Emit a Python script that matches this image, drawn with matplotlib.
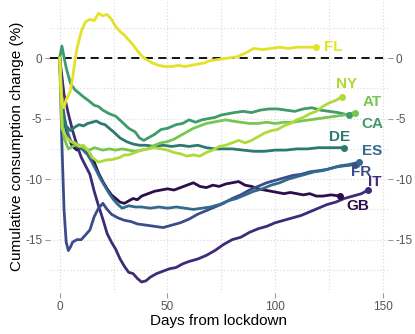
import numpy as np
import matplotlib
matplotlib.use('Agg')
import matplotlib.pyplot as plt

plt.rcParams['font.family'] = ['Liberation Sans', 'DejaVu Sans']

# hand read values, days from lockdown / cumulative change (%)
fl_day = [0, 1, 2, 3, 4, 5, 6, 7, 8, 10, 12, 14, 16, 18, 20, 22, 24, 26, 28, 30, 32, 34, 36, 38, 40,
          43, 46, 49, 52, 55, 58, 61, 64, 67, 70, 74, 78, 82, 86, 90, 94, 98, 102, 106, 110, 114, 119]
fl_val = [0, -3.6, -4.1, -3.4, -3.1, -2.7, -1.6, -0.3, 0.8, 2.2, 3.0, 3.2, 3.1, 3.7, 3.5, 3.6, 3.2, 2.6, 2.2, 1.9, 1.5, 1.1, 0.6, 0.2, -0.1,
          -0.4, -0.6, -0.7, -0.7, -0.6, -0.7, -0.6, -0.5, -0.4, -0.2, -0.1, 0.0, 0.1, 0.4, 0.8, 0.7, 0.8, 0.9, 0.8, 0.9, 0.9, 0.9]

ny_day = [0, 1, 3, 5, 7, 9, 11, 13, 15, 18, 20, 22, 24, 26, 28, 30, 32,
          35, 38, 41, 44, 47, 50, 53, 56, 59, 62, 65, 68, 71, 74, 77, 80, 83, 86, 89, 92, 95, 98, 101, 104,
          107, 110, 113, 116, 119, 122, 125, 128, 131]
ny_val = [0, -5.8, -6.5, -6.9, -7.0, -7.3, -7.2, -7.6, -8.2, -8.6, -8.5, -8.4, -8.4, -8.3, -8.2, -8.0, -8.0,
          -7.8, -7.6, -7.5, -7.4, -7.5, -7.6, -7.8, -7.9, -8.1, -8.0, -8.1, -7.8, -7.6, -7.3, -7.2, -7.0, -6.8, -7.0, -6.8, -6.5, -6.2, -6.0, -5.9, -5.6,
          -5.4, -5.1, -4.9, -4.6, -4.4, -4.0, -3.7, -3.5, -3.2]

at_day = [0, 1, 2, 4, 6, 8, 10, 12, 14, 16, 18, 20,
          23, 26, 29, 32, 35, 38, 41, 44, 47, 50, 53, 56, 59, 62, 65, 68, 71, 74, 77, 80,
          84, 88, 92, 96, 100, 104, 108, 112, 116, 120, 124, 128, 132, 137]
at_val = [0, -4.8, -6.6, -7.5, -7.3, -7.1, -7.3, -7.5, -7.6, -7.4, -7.5, -7.6,
          -7.5, -7.6, -7.5, -7.6, -7.7, -7.6, -7.5, -7.2, -7.0, -6.9, -6.7, -6.4, -6.1, -5.8, -5.6, -5.4, -5.3, -5.2, -5.1, -5.2,
          -5.3, -5.4, -5.4, -5.3, -5.4, -5.3, -5.3, -5.2, -5.1, -5.0, -4.9, -4.8, -4.7, -4.5]

ca_day = [0, 1, 3, 5, 7, 9, 11, 14, 16, 18, 20,
          23, 26, 29, 32, 35, 37, 39, 41, 44, 47, 50, 54, 57, 60, 63, 66, 69, 72, 75, 78, 81,
          85, 89, 93, 97, 101, 105, 109, 113, 117, 121, 125, 129, 134]
ca_val = [0, 1.0, -0.8, -2.1, -2.6, -2.9, -3.2, -3.6, -3.9, -4.0, -4.3,
          -4.6, -4.8, -5.3, -5.8, -6.1, -6.6, -6.8, -6.6, -6.3, -5.9, -5.8, -5.5, -5.4, -5.1, -5.3, -5.1, -5.0, -4.9, -4.7, -4.6, -4.5,
          -4.4, -4.5, -4.3, -4.2, -4.2, -4.3, -4.4, -4.2, -4.1, -4.3, -4.4, -4.5, -4.7]

de_day = [0, 1, 3, 5, 7, 9, 11, 13, 15, 17, 19, 21, 23, 25,
          28, 31, 34, 37, 40, 44, 48, 52, 56, 60, 64, 68, 72, 76, 80,
          85, 90, 95, 100, 105, 110, 115, 120, 125, 132]
de_val = [0, -4.2, -5.6, -6.0, -5.7, -5.5, -5.6, -5.4, -5.3, -5.2, -5.4, -5.5, -5.8, -6.1,
          -6.6, -6.9, -7.1, -7.2, -7.2, -7.3, -7.2, -7.3, -7.2, -7.3, -7.2, -7.4, -7.5, -7.5, -7.5,
          -7.6, -7.7, -7.7, -7.6, -7.6, -7.5, -7.5, -7.4, -7.4, -7.4]

es_day = [0, 1, 3, 5, 7, 9, 11, 13, 15, 17, 19, 21, 23, 25, 27, 29,
          32, 35, 38, 42, 46, 50, 54, 58, 62, 66, 70, 74, 78, 82, 86, 90, 94, 98,
          102, 106, 110, 114, 118, 122, 126, 130, 134, 139]
es_val = [0, -3.5, -5.8, -6.8, -7.2, -7.3, -7.6, -8.0, -8.6, -9.3, -10.0, -10.6, -11.2, -11.7, -12.1, -12.4,
          -12.2, -12.3, -12.3, -12.4, -12.3, -12.4, -12.3, -12.4, -12.5, -12.4, -12.3, -12.1, -11.8, -11.6, -11.3, -11.0, -10.8, -10.5,
          -10.3, -10.0, -9.8, -9.6, -9.4, -9.3, -9.1, -8.9, -8.8, -8.6]

fr_day = [0, 1, 2, 3, 4, 5, 6, 8, 10, 12, 14, 16, 18, 20, 22, 24,
          27, 30, 33, 36, 40, 44, 48, 52, 56, 60, 64, 68, 72, 76, 80,
          84, 88, 92, 96, 100, 104, 108, 112, 116, 120, 124, 128, 132, 137]
fr_val = [0, -7.0, -12.5, -15.2, -15.9, -15.6, -15.2, -15.0, -15.0, -14.6, -14.2, -13.1, -12.4, -12.0, -12.5, -12.9,
          -13.2, -13.4, -13.5, -13.7, -13.8, -13.9, -14.0, -13.8, -13.6, -13.3, -12.9, -12.6, -12.3, -12.0, -11.6,
          -11.3, -10.9, -10.6, -10.3, -10.1, -9.9, -9.7, -9.6, -9.4, -9.3, -9.2, -9.0, -8.9, -8.8]

it_day = [0, 2, 4, 6, 8, 10, 12, 14, 16, 18, 20, 22, 24, 26, 28, 30, 32, 34, 36, 38, 40, 42,
          45, 48, 51, 54, 57, 60,
          64, 68, 72, 76, 80, 84, 88, 92, 96, 100, 104, 108, 112, 116, 120, 124, 128, 132, 136, 140, 143]
it_val = [0, -3.0, -4.6, -6.0, -7.2, -8.2, -8.9, -9.6, -11.0, -12.2, -13.3, -14.5, -15.2, -15.8, -16.6, -17.2, -17.7, -17.8, -18.2, -18.5, -18.4, -18.1,
          -17.8, -17.6, -17.4, -17.3, -17.0, -16.8,
          -16.6, -16.3, -15.9, -15.4, -15.0, -14.8, -14.4, -14.1, -13.9, -13.6, -13.4, -13.2, -13.0, -12.7, -12.4, -12.1, -11.9, -11.6, -11.4, -11.2, -10.9]

gb_day = [0, 1, 2,
          4, 6, 8, 10, 12, 14, 16, 18, 20, 22, 24, 26, 28, 30, 32, 34, 36, 38,
          41, 44, 47, 50, 53, 56, 59, 62, 65, 68, 71, 74, 77, 80, 83, 86, 89, 92, 95, 98, 101, 104, 107, 110, 113, 116, 119, 122,
          126, 130]
gb_val = [0, -3.5, -5.2,
          -6.6, -7.3, -7.6, -7.4, -7.8, -7.9, -8.6, -9.5, -10.2, -10.8, -11.3, -11.6, -11.9, -12.0, -11.8, -11.6, -11.7, -11.4,
          -11.2, -11.0, -10.9, -10.8, -10.9, -10.7, -10.5, -10.3, -10.6, -10.7, -10.5, -10.6, -10.4, -10.3, -10.2, -10.5, -10.6, -10.8, -10.9, -11.0, -11.1, -11.2, -11.1, -11.2, -11.3, -11.2, -11.4, -11.4,
          -11.3, -11.4]

names  = ['GB', 'IT', 'FR', 'ES', 'DE', 'CA', 'AT', 'NY', 'FL']
days   = [gb_day, it_day, fr_day, es_day, de_day, ca_day, at_day, ny_day, fl_day]
vals   = [gb_val, it_val, fr_val, es_val, de_val, ca_val, at_val, ny_val, fl_val]
colors = ['#2c0f4a', '#3f2a78', '#3a4d8a', '#33698c', '#2b7a72', '#3f9a6c', '#78c652', '#b0d93a', '#e3e229']
# label offsets (days, %) from the end dot
lab_off = {'FL': (3.5, 0.0), 'NY': (2.0, 1.1), 'AT': (8.0, 0.9), 'CA': (11.0, -0.75),
           'DE': (-2.0, 0.85), 'ES': (6.0, 0.95), 'FR': (3.0, -0.6), 'IT': (3.2, 0.7), 'GB': (8.5, -0.85)}
lab_ha = {'FL': 'left'}

fig = plt.figure(figsize=(4.15, 3.34), dpi=100)
ax = fig.add_axes([0.12, 0.123, 0.815, 0.877])

ax.axhline(0, color='black', lw=1.3, ls=(0, (4.5, 3)), zorder=1)

for nm, d, v, c in zip(names, days, vals, colors):
    ax.plot(d, v, color=c, lw=2.0, zorder=2, solid_joinstyle='round')
    ax.plot(d[-1], v[-1], 'o', color=c, ms=4.0, zorder=3)
    dx, dy = lab_off[nm]
    ax.text(d[-1] + dx, v[-1] + dy, nm, color=c, fontsize=11, fontweight='bold',
            ha=lab_ha.get(nm, 'center'), va='center', zorder=4)

ax.set_xlim(-4.6, 152.3)
ax.set_ylim(-19.4, 4.8)
ax.set_xticks([0, 50, 100, 150])
ax.set_xticks([25, 75, 125], minor=True)
ax.set_yticks([0, -5, -10, -15])
ax.set_yticks([2.5, -2.5, -7.5, -12.5, -17.5], minor=True)
ax.set_yticklabels(['0', '-5', '-10', '-15'])
ax.grid(True, which='both', color='#d9d9d9', lw=0.8, ls=(0, (1, 2)))
ax.set_axisbelow(True)
for s in ax.spines.values():
    s.set_visible(False)
ax.tick_params(which='major', length=3.5, color='#9a9a9a', labelsize=8.5, labelcolor='#555555', pad=2)
ax.tick_params(which='minor', length=0)

ax2 = ax.twinx()
ax2.set_ylim(ax.get_ylim())
ax2.set_yticks([0, -5, -10, -15])
ax2.set_yticklabels(['0', '-5', '-10', '-15'])
for s in ax2.spines.values():
    s.set_visible(False)
ax2.tick_params(length=3.5, color='#9a9a9a', labelsize=8.5, labelcolor='#555555', pad=2)

ax.set_xlabel('Days from lockdown', fontsize=11, labelpad=1)
ax.set_ylabel('Cumulative consumption change (%)', fontsize=11, labelpad=1)

fig.savefig('out.png', dpi=100)
